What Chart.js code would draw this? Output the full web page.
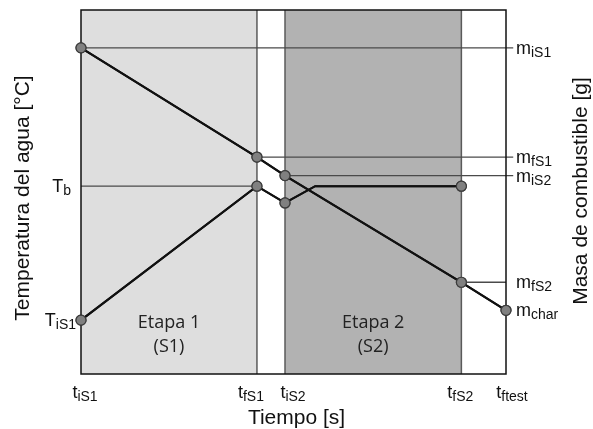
<!DOCTYPE html>
<html>
<head>
<meta charset="utf-8">
<script src="https://cdn.jsdelivr.net/npm/chart.js@4.4.0/dist/chart.umd.min.js"></script>
<style>
  html, body { margin: 0; padding: 0; background: #fff; }
  #wrap { width: 593px; height: 429px; }
</style>
</head>
<body>
<div id="wrap"><canvas id="chart" width="593" height="429"></canvas></div>
<script>
// time marks (arbitrary units, 0..100)
const tiS1 = 0, tfS1 = 41.4, tiS2 = 48.0, tfS2 = 89.5, tftest = 100;
const tRise = 55.1;       // where the water is back at Tb in stage 2
const tLabelEnd = 101.7;  // right-hand reference lines run out to the labels

// water temperature (left axis, 0..100)
const TiS1 = 14.8, Tb = 51.6, TdipS2 = 47.0;
const tempX = [tiS1, tfS1, tiS2, tRise, tfS2];
const tempY = [TiS1, Tb, TdipS2, Tb, Tb];
const tempMarker = [true, true, true, false, true];

// fuel mass (right axis, 0..100)
const miS1 = 89.6, mfS1 = 59.6, miS2 = 54.5, mfS2 = 25.2, mchar = 17.5;
const massX = [tiS1, tfS1, tiS2, tfS2, tftest];
const massY = [miS1, mfS1, miS2, mfS2, mchar];

// tick labels: [main, subscript]
const xTickVals = [tiS1, tfS1, tiS2, tfS2, tftest];
const xTickLabels = [['t', 'iS1'], ['t', 'fS1'], ['t', 'iS2'], ['t', 'fS2'], ['t', 'ftest']];
const xTickShift = [4, -6, 8, -1, 6];
const leftTickVals = [Tb, TiS1];
const leftTickLabels = [['T', 'b'], ['T', 'iS1']];
const leftTickGap = [10, 5];
const rightTickVals = [miS1, mfS1, miS2, mfS2, mchar];
const rightTickLabels = [['m', 'iS1'], ['m', 'fS1'], ['m', 'iS2'], ['m', 'fS2'], ['m', 'char']];

const stages = [
  { from: tiS1, to: tfS1, color: '#dedede', title: 'Etapa 1', sub: '(S1)' },
  { from: tiS2, to: tfS2, color: '#b2b2b2', title: 'Etapa 2', sub: '(S2)' },
];

const pts = (xs, ys) => xs.map((x, i) => ({ x: x, y: ys[i] }));

const refLine = (x0, x1, y, axis) => ({
  data: [{ x: x0, y: y }, { x: x1, y: y }],
  yAxisID: axis,
  borderColor: '#4a4a4a',
  borderWidth: 1.3,
  pointRadius: 0,
  showLine: true,
  clip: false,
  order: 5,
});

const vLine = (x) => ({
  data: [{ x: x, y: 0 }, { x: x, y: 100 }],
  yAxisID: 'y',
  borderColor: '#5a5a5a',
  borderWidth: 1.5,
  pointRadius: 0,
  showLine: true,
  clip: false,
  order: 6,
});

const marker = {
  pointBackgroundColor: '#808080',
  pointBorderColor: '#3c3c3c',
  pointBorderWidth: 1.2,
};

const MAIN_FONT = '18px "Liberation Sans", Arial, sans-serif';
const SUB_FONT = '14px "Liberation Sans", Arial, sans-serif';

function drawSub(ctx, main, sub, x, y, align) {
  ctx.font = MAIN_FONT;
  const w1 = ctx.measureText(main).width;
  ctx.font = SUB_FONT;
  const w2 = ctx.measureText(sub).width;
  const total = w1 + w2;
  let x0 = x;
  if (align === 'center') x0 = x - total / 2;
  if (align === 'right') x0 = x - total;
  ctx.textAlign = 'left';
  ctx.textBaseline = 'alphabetic';
  ctx.font = MAIN_FONT;
  ctx.fillText(main, x0, y);
  ctx.font = SUB_FONT;
  ctx.fillText(sub, x0 + w1, y + 3);
}

const decor = {
  id: 'decor',
  beforeDatasetsDraw(chart) {
    const { ctx, chartArea: a, scales: { x } } = chart;
    ctx.save();
    stages.forEach(s => {
      const l = x.getPixelForValue(s.from), r = x.getPixelForValue(s.to);
      ctx.fillStyle = s.color;
      ctx.fillRect(l, a.top, r - l, a.bottom - a.top);
    });
    ctx.fillStyle = '#222';
    ctx.font = '18px "Open Sans", sans-serif';
    ctx.textAlign = 'center';
    ctx.textBaseline = 'middle';
    stages.forEach(s => {
      const c = (x.getPixelForValue(s.from) + x.getPixelForValue(s.to)) / 2;
      ctx.fillText(s.title, c, a.bottom - 51);
      ctx.fillText(s.sub, c, a.bottom - 27);
    });
    ctx.restore();
  },
  afterDatasetsDraw(chart) {
    const { ctx, chartArea: a, scales: { x, y, y2 } } = chart;
    ctx.save();
    ctx.strokeStyle = '#111';
    ctx.lineWidth = 1.5;
    ctx.strokeRect(a.left, a.top, a.right - a.left, a.bottom - a.top);
    // redraw markers on top of the border
    chart.getSortedVisibleDatasetMetas().forEach(m => {
      if (m.order < 5) m.controller.draw();
    });

    ctx.fillStyle = '#111';
    xTickVals.forEach((v, i) => {
      drawSub(ctx, xTickLabels[i][0], xTickLabels[i][1], x.getPixelForValue(v) + xTickShift[i], a.bottom + 24, 'center');
    });
    leftTickVals.forEach((v, i) => {
      drawSub(ctx, leftTickLabels[i][0], leftTickLabels[i][1], a.left - leftTickGap[i], y.getPixelForValue(v) + 6, 'right');
    });
    rightTickVals.forEach((v, i) => {
      drawSub(ctx, rightTickLabels[i][0], rightTickLabels[i][1], a.right + 10, y2.getPixelForValue(v) + 6, 'left');
    });

    ctx.font = '21px "Liberation Sans", Arial, sans-serif';
    ctx.textAlign = 'center';
    ctx.textBaseline = 'middle';
    ctx.fillText('Tiempo [s]', (a.left + a.right) / 2 + 3, a.bottom + 44);
    ctx.save();
    ctx.translate(23, 198);
    ctx.rotate(-Math.PI / 2);
    ctx.fillText('Temperatura del agua [°C]', 0, 0);
    ctx.restore();
    ctx.save();
    ctx.translate(581, 191);
    ctx.rotate(-Math.PI / 2);
    ctx.fillText('Masa de combustible [g]', 0, 0);
    ctx.restore();
    ctx.restore();
  },
};

new Chart(document.getElementById('chart'), {
  type: 'scatter',
  data: {
    datasets: [
      Object.assign({
        label: 'Temperatura',
        data: pts(tempX, tempY),
        yAxisID: 'y',
        borderColor: '#111',
        borderWidth: 2,
        showLine: true,
        pointRadius: tempMarker.map(v => v ? 5 : 0),
        clip: false,
        order: 1,
      }, marker),
      Object.assign({
        label: 'Masa',
        data: pts(massX, massY),
        yAxisID: 'y2',
        borderColor: '#111',
        borderWidth: 2,
        showLine: true,
        pointRadius: 5,
        clip: false,
        order: 2,
      }, marker),
      refLine(tiS1, tfS1, Tb, 'y'),
      refLine(tiS1, tLabelEnd, miS1, 'y2'),
      refLine(tfS1, tLabelEnd, mfS1, 'y2'),
      refLine(tiS2, tLabelEnd, miS2, 'y2'),
      refLine(tfS2, tftest, mfS2, 'y2'),
      vLine(tfS1),
      vLine(tiS2),
      vLine(tfS2),
    ],
  },
  options: {
    responsive: false,
    animation: false,
    layout: { padding: { left: 81, top: 10, right: 87, bottom: 55 } },
    plugins: { legend: { display: false }, tooltip: { enabled: false } },
    scales: {
      x: { type: 'linear', min: 0, max: 100, display: false },
      y: { min: 0, max: 100, display: false },
      y2: { min: 0, max: 100, display: false, position: 'right' },
    },
  },
  plugins: [decor],
});
</script>
</body>
</html>
